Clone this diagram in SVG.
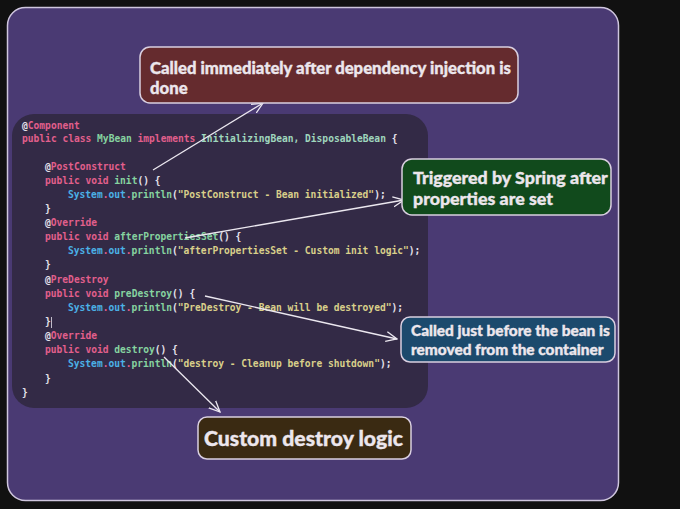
<svg xmlns="http://www.w3.org/2000/svg" width="680" height="509" viewBox="0 0 680 509">
<defs>
<style>
.code{font-family:"DejaVu Sans Mono","Liberation Mono",monospace;font-size:9.6px;font-weight:bold;white-space:pre}
.k{fill:#e25f8c}.g{fill:#86d3a0}.t{fill:#9fd6bd}.b{fill:#4bb1e6}.s{fill:#d9cf8a}.w{fill:#e6e2ec}
.lbl{font-family:Lato,"Noto Sans",sans-serif;font-weight:900;fill:#ece6ec;stroke:#ece6ec;stroke-width:0.35}
.box{stroke:#d9cfe0;stroke-width:1.5}
.conn{stroke:#ece8f0;stroke-width:1.3;fill:none}
</style>
<marker id="ah" viewBox="0 0 12 12" refX="11" refY="6" markerWidth="12" markerHeight="12" markerUnits="userSpaceOnUse" orient="auto">
<path d="M0,1 L11,6 L0,11" fill="none" stroke="#ece8f0" stroke-width="1.3"/>
</marker>
</defs>
<rect width="680" height="509" fill="#111111"/>
<rect x="7.5" y="7.5" width="611" height="493" rx="18" fill="#4a3a73" stroke="#cfc6de" stroke-width="1.5"/>
<g id="code-panel">
<rect x="12" y="114" width="416" height="294" rx="22" fill="#332a46"/>
<text class="code" xml:space="preserve">
<tspan x="22" y="129"><tspan class="w">@</tspan><tspan class="k">Component</tspan></tspan>
<tspan x="22" y="142"><tspan class="k">public class </tspan><tspan class="g">MyBean </tspan><tspan class="k">implements </tspan><tspan class="t">InitializingBean, DisposableBean </tspan><tspan class="w">{</tspan></tspan>
<tspan x="45" y="170"><tspan class="w">@</tspan><tspan class="k">PostConstruct</tspan></tspan>
<tspan x="45" y="184"><tspan class="k">public void </tspan><tspan class="g">init</tspan><tspan class="w">() {</tspan></tspan>
<tspan x="68" y="198"><tspan class="b">System</tspan><tspan class="k">.</tspan><tspan class="b">out</tspan><tspan class="k">.</tspan><tspan class="g">println</tspan><tspan class="w">(</tspan><tspan class="s">"PostConstruct - Bean initialized"</tspan><tspan class="w">);</tspan></tspan>
<tspan x="45" y="212" class="w">}</tspan>
<tspan x="45" y="226"><tspan class="w">@</tspan><tspan class="k">Override</tspan></tspan>
<tspan x="45" y="240"><tspan class="k">public void </tspan><tspan class="g">afterPropertiesSet</tspan><tspan class="w">() {</tspan></tspan>
<tspan x="68" y="254"><tspan class="b">System</tspan><tspan class="k">.</tspan><tspan class="b">out</tspan><tspan class="k">.</tspan><tspan class="g">println</tspan><tspan class="w">(</tspan><tspan class="s">"afterPropertiesSet - Custom init logic"</tspan><tspan class="w">);</tspan></tspan>
<tspan x="45" y="268" class="w">}</tspan>
<tspan x="45" y="283"><tspan class="w">@</tspan><tspan class="k">PreDestroy</tspan></tspan>
<tspan x="45" y="297"><tspan class="k">public void </tspan><tspan class="g">preDestroy</tspan><tspan class="w">() {</tspan></tspan>
<tspan x="68" y="311"><tspan class="b">System</tspan><tspan class="k">.</tspan><tspan class="b">out</tspan><tspan class="k">.</tspan><tspan class="g">println</tspan><tspan class="w">(</tspan><tspan class="s">"PreDestroy - Bean will be destroyed"</tspan><tspan class="w">);</tspan></tspan>
<tspan x="45" y="325" class="w">}</tspan>
<tspan x="45" y="339"><tspan class="w">@</tspan><tspan class="k">Override</tspan></tspan>
<tspan x="45" y="353"><tspan class="k">public void </tspan><tspan class="g">destroy</tspan><tspan class="w">() {</tspan></tspan>
<tspan x="68" y="367"><tspan class="b">System</tspan><tspan class="k">.</tspan><tspan class="b">out</tspan><tspan class="k">.</tspan><tspan class="g">println</tspan><tspan class="w">(</tspan><tspan class="s">"destroy - Cleanup before shutdown"</tspan><tspan class="w">);</tspan></tspan>
<tspan x="45" y="382" class="w">}</tspan>
<tspan x="22" y="396" class="w">}</tspan>
</text>
<line x1="51.5" y1="317" x2="51.5" y2="328" stroke="#e6e2ec" stroke-width="0.8"/>
</g>
<g id="connectors">
<line class="conn" x1="153" y1="170" x2="263" y2="103" marker-end="url(#ah)"/>
<line class="conn" x1="185" y1="238" x2="404" y2="200" marker-end="url(#ah)"/>
<line class="conn" x1="205" y1="296" x2="397" y2="339" marker-end="url(#ah)"/>
<line class="conn" x1="164" y1="357" x2="220" y2="412" marker-end="url(#ah)"/>
</g>
<g id="node-postconstruct">
<rect class="box" x="140" y="47" width="378" height="56" rx="10" fill="#652b2e"/>
<text class="lbl" font-size="16.7"><tspan x="150" y="74">Called immediately after dependency injection is</tspan><tspan x="150" y="94">done</tspan></text>
</g>
<g id="node-afterprops">
<rect class="box" x="402" y="159" width="209" height="56" rx="10" fill="#114a1c"/>
<text class="lbl" font-size="17.8"><tspan x="413" y="184">Triggered by Spring after</tspan><tspan x="413" y="205">properties are set</tspan></text>
</g>
<g id="node-predestroy">
<rect class="box" x="401" y="317" width="214" height="45" rx="9" fill="#1c4a6d"/>
<text class="lbl" font-size="15.4"><tspan x="411" y="336">Called just before the bean is</tspan><tspan x="411" y="355">removed from the container</tspan></text>
</g>
<g id="node-destroy">
<rect class="box" x="198" y="417" width="213" height="42" rx="9" fill="#3a2a12"/>
<text class="lbl" font-size="21.2" x="204" y="446">Custom destroy logic</text>
</g>
</svg>
